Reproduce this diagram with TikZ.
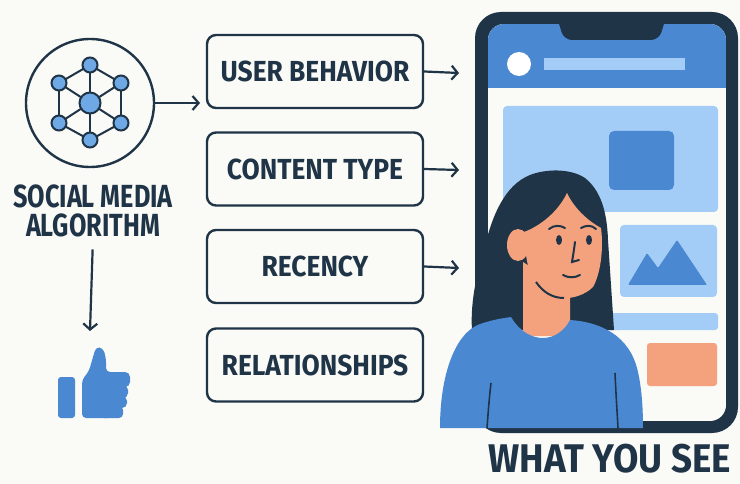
\documentclass[tikz,border=0pt]{standalone}
\usepackage{fontspec}
\setmainfont{Fira Sans}
\newfontfamily\boxfont[FakeStretch=0.91]{Fira Sans}
\newfontfamily\seefont[FakeStretch=0.92]{Fira Sans}
\newfontfamily\algofont[FakeStretch=0.79]{Fira Sans}
\usetikzlibrary{arrows.meta}

\definecolor{navy}{HTML}{1F3447}
\definecolor{mainblue}{HTML}{4A89D2}
\definecolor{netblue}{HTML}{6EA9E6}
\definecolor{paleblue}{HTML}{A3CDF6}
\definecolor{skin}{HTML}{F4A27E}
\definecolor{paper}{HTML}{FAFAF6}

\tikzset{
  factorbox/.style={draw=navy, line width=2.4pt, rounded corners=9pt,
    minimum width=216pt, minimum height=73pt, text=navy,
    font=\boxfont\bfseries\fontsize{29}{29}\selectfont},
  flow/.style={draw=navy, line width=2.2pt,
    -{Straight Barb[length=6pt,width=14pt]}},
  netnode/.style={circle, draw=navy, line width=2pt, fill=netblue,
    minimum size=15pt, inner sep=0pt},
}

\begin{document}
\begin{tikzpicture}[x=1pt,y=-1pt]
% page
\fill[paper] (0,0) rectangle (740,484);

% algorithm icon
\node[circle, draw=navy, line width=2.4pt, minimum size=128pt] (algo) at (90,103) {};
\coordinate (hub) at (90,103);
\coordinate (n1) at (90,65);
\coordinate (n2) at (121,83);
\coordinate (n3) at (121,123);
\coordinate (n4) at (90,140);
\coordinate (n5) at (59,123);
\coordinate (n6) at (59,83);
\foreach \a/\b in {n1/n2,n2/n3,n3/n4,n4/n5,n5/n6,n6/n1}
  \draw[navy, line width=2pt] (\a) -- (\b);
\foreach \a in {n1,n2,n3,n4,n5,n6}
  \draw[navy, line width=2pt] (hub) -- (\a);
\node[netnode, minimum size=21pt] at (hub) {};
\foreach \a in {n1,n2,n3,n4,n5,n6}
  \node[netnode] at (\a) {};

\node[text=navy, font=\algofont\bfseries\fontsize{32}{29}\selectfont, align=center,
  inner sep=0pt] (algolabel) at (93,211) {SOCIAL MEDIA\\ALGORITHM};

% thumbs up
\coordinate (likeend) at (90,331);
\fill[mainblue, rounded corners=3pt] (58,377) rectangle (75,418);
\fill[mainblue, rounded corners=4pt] (82,418) -- (82,380) -- (89,371)
  -- (93,357) -- (96,347) -- (103,348) -- (106,358) -- (106,372)
  -- (112,372) -- (112,418) -- cycle;
\fill[mainblue, rounded corners=5pt] (100,372) rectangle (130,387);
\fill[mainblue, rounded corners=5pt] (100,385) rectangle (128,398);
\fill[mainblue, rounded corners=5pt] (100,396) rectangle (127,408);
\fill[mainblue, rounded corners=4pt] (100,406) rectangle (123,418);

% factor boxes
\node[factorbox] (behavior) at (315,71.5) {USER BEHAVIOR};
\node[factorbox] (content) at (315,169) {CONTENT TYPE};
\node[factorbox] (recency) at (315,266.5) {RECENCY};
\node[factorbox] (relations) at (315,365) {RELATIONSHIPS};

\coordinate (algoend) at (200,103);
\coordinate (behaviorend) at (459,73);
\coordinate (contentend) at (459,170);
\coordinate (recencyend) at (459,268);

\draw[flow] (algo.east) -- (algoend);
\draw[flow, shorten <=12pt] (algolabel.south) -- (likeend);
\draw[flow] (behavior.east) -- (behaviorend);
\draw[flow] (content.east) -- (contentend);
\draw[flow] (recency.east) -- (recencyend);

% phone
\fill[navy, rounded corners=26pt] (475,12) rectangle (738,433);
\begin{scope}
  \clip[rounded corners=16pt] (488,24) rectangle (726,421);
  \fill[paper] (488,24) rectangle (726,421);
  \fill[mainblue] (488,24) rectangle (726,88);
\end{scope}
\fill[navy, rounded corners=8pt] (556,14) -- (564,40) -- (659,40) -- (667,14) -- cycle;
\fill[white] (519,64) circle (12);
\fill[paleblue] (544,58) rectangle (685,70);
% feed
\fill[paleblue, rounded corners=4pt] (503,106) rectangle (718,212);
\fill[mainblue, rounded corners=5pt] (609,131) rectangle (674,190);
\fill[paleblue, rounded corners=4pt] (620,225) rectangle (717,297);
\fill[mainblue, rounded corners=1pt] (628,285) -- (647,253) -- (658,268)
  -- (677,240) -- (707,285) -- cycle;
\fill[paleblue, rounded corners=3pt] (503,313) rectangle (718,330);
\fill[skin, rounded corners=3pt] (647,343) rectangle (717,386);

% woman
\fill[navy] (472,330) .. controls (470,300) and (478,270) .. (484,250)
  .. controls (492,215) and (505,185) .. (530,175)
  .. controls (545,169) and (570,168) .. (585,178)
  .. controls (600,190) and (607,210) .. (608,240)
  .. controls (610,270) and (612,300) .. (614,330) -- cycle;
\fill[skin] (523,262) -- (523,336) -- (570,336) -- (570,292) -- cycle;
\fill[skin] (518,245) ellipse (11 and 16);
\fill[skin] (567,193) .. controls (575,210) and (590,222) .. (601,228)
  .. controls (604,250) and (600,275) .. (593,287)
  .. controls (585,295) and (572,299) .. (562,298)
  .. controls (550,296) and (540,290) .. (533,280)
  .. controls (528,270) and (525,255) .. (524,232)
  .. controls (540,226) and (558,212) .. (567,193) -- cycle;
\draw[navy, line width=2pt] (536,282) .. controls (543,292) and (552,298) .. (564,298);
\fill[navy] (559,240) ellipse (3 and 5);
\fill[navy] (589,240) ellipse (3 and 5);
\draw[navy, line width=2pt, line cap=round]
  (549,229) .. controls (554,225) and (560,225) .. (565,228)
  (581,228) .. controls (586,225) and (592,225) .. (596,229)
  (575,242) .. controls (574,250) and (573,256) .. (572,262) -- (579,260)
  (563,275) .. controls (568,278) and (575,278) .. (580,275);
\fill[mainblue] (440,428) .. controls (440,375) and (455,333) .. (480,324)
  .. controls (495,319) and (505,318) .. (511,317)
  .. controls (520,332) and (532,338) .. (543,338)
  .. controls (555,338) and (565,330) .. (570,320)
  .. controls (600,322) and (630,335) .. (638,372)
  .. controls (642,390) and (643,410) .. (643,428) -- cycle;
\draw[navy, line width=1.6pt] (491,383) .. controls (489,400) and (488,415) .. (487,428)
  (615,373) .. controls (616,395) and (617,410) .. (618,428);

\node[text=navy, font=\seefont\bfseries\fontsize{40}{40}\selectfont, inner sep=0pt]
  (seelabel) at (610,459) {WHAT YOU SEE};
\end{tikzpicture}
\end{document}
